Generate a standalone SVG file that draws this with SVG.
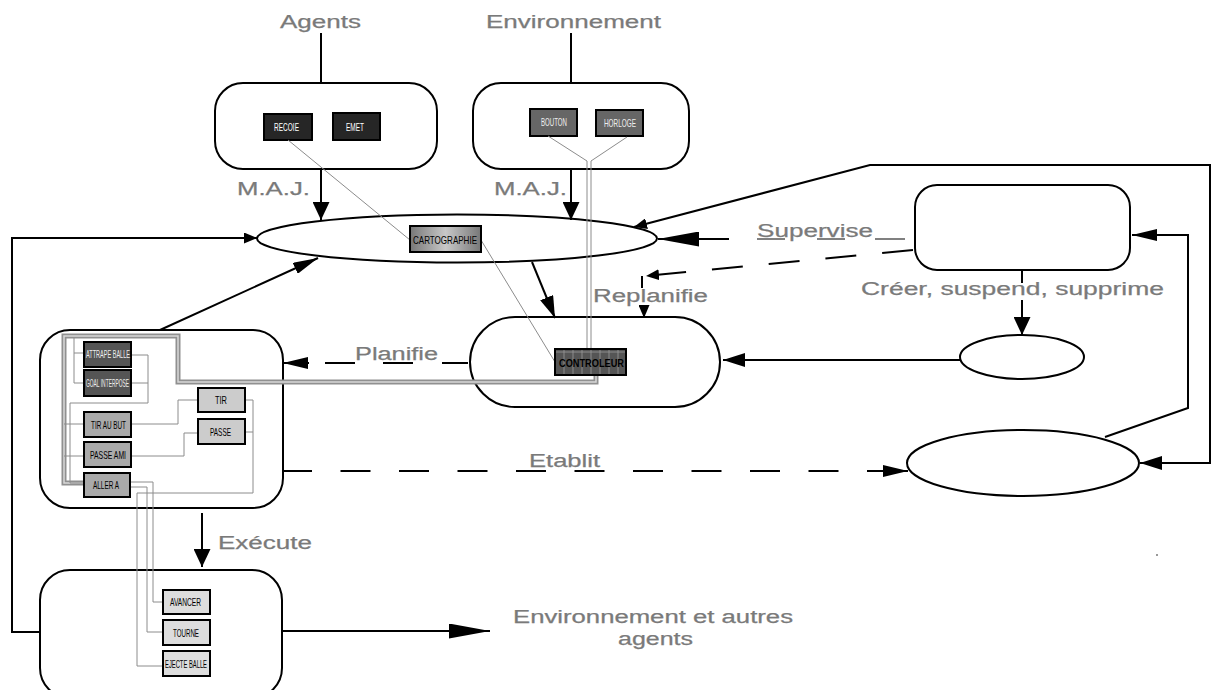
<svg xmlns="http://www.w3.org/2000/svg" width="1211" height="690" viewBox="0 0 1211 690">
<style>
.shape{fill:#fff;stroke:#000;stroke-width:2}
.lbl{font-family:"Liberation Sans",Arial,sans-serif;font-size:18px;fill:#7a7a7a;stroke:#7a7a7a;stroke-width:0.25}
.box{stroke:#000;stroke-width:2}
.bt{font-family:"Liberation Sans",Arial,sans-serif;font-size:11.5px}
.w{fill:#fff}
.k{fill:#000}
.c{fill:none;stroke:#000;stroke-width:2}
.wire{fill:none;stroke:#8c8c8c;stroke-width:1}
.dk{fill:#262626}
.md{fill:#666}
.g5{fill:#555}
.g9{fill:#aaa}
.gc{fill:#ccc}
.gd{fill:#ddd}
</style>
<defs>
<marker id="ah" markerUnits="userSpaceOnUse" markerWidth="22" markerHeight="14" refX="22" refY="7" orient="auto"><path d="M0,0 L22,7 L0,14 z" fill="#000"/></marker>
<marker id="ahL" markerUnits="userSpaceOnUse" markerWidth="41" markerHeight="15" refX="41" refY="7.5" orient="auto"><path d="M0,0 L41,7.5 L0,15 z" fill="#000"/></marker>
<marker id="ahM" markerUnits="userSpaceOnUse" markerWidth="25" markerHeight="12" refX="25" refY="6" orient="auto"><path d="M0,0 L25,6 L0,12 z" fill="#000"/></marker>
<marker id="ahS" markerUnits="userSpaceOnUse" markerWidth="13" markerHeight="11" refX="13" refY="5.5" orient="auto"><path d="M0,0 L13,5.5 L0,11 z" fill="#000"/></marker>
<marker id="ahD" markerUnits="userSpaceOnUse" markerWidth="18" markerHeight="17" refX="18" refY="8.5" orient="auto"><path d="M0,0 L18,8.5 L0,17 z" fill="#000"/></marker>
<linearGradient id="cartoGrad" x1="0" y1="0" x2="1" y2="0">
<stop offset="0" stop-color="#777"/><stop offset="0.5" stop-color="#c8c8c8"/><stop offset="1" stop-color="#777"/>
</linearGradient>
</defs>
<rect width="1211" height="690" fill="#fff"/>

<g id="labels">
<text class="lbl" x="280" y="28" textLength="81" lengthAdjust="spacingAndGlyphs">Agents</text>
<text class="lbl" x="486" y="28" textLength="175" lengthAdjust="spacingAndGlyphs">Environnement</text>
<text class="lbl" x="237" y="195" textLength="73" lengthAdjust="spacingAndGlyphs">M.A.J.</text>
<text class="lbl" x="494" y="195" textLength="73" lengthAdjust="spacingAndGlyphs">M.A.J.</text>
<text class="lbl" x="757" y="237" textLength="116" lengthAdjust="spacingAndGlyphs">Supervise</text>
<text class="lbl" x="593" y="302" textLength="115" lengthAdjust="spacingAndGlyphs">Replanifie</text>
<text class="lbl" x="861" y="295" textLength="303" lengthAdjust="spacingAndGlyphs">Créer, suspend, supprime</text>
<text class="lbl" x="355" y="360" textLength="83" lengthAdjust="spacingAndGlyphs">Planifie</text>
<text class="lbl" x="529" y="467" textLength="71" lengthAdjust="spacingAndGlyphs">Etablit</text>
<text class="lbl" x="218" y="549" textLength="94" lengthAdjust="spacingAndGlyphs">Exécute</text>
<text class="lbl" x="513" y="623" textLength="280" lengthAdjust="spacingAndGlyphs">Environnement et autres</text>
<text class="lbl" x="618" y="645" textLength="75" lengthAdjust="spacingAndGlyphs">agents</text>
</g>

<g id="node-agents">
<rect class="shape" x="215" y="83" width="222" height="86" rx="28"/>
<rect class="box dk" x="264" y="114" width="48" height="26"/>
<text class="bt w" x="274" y="131" textLength="25" lengthAdjust="spacingAndGlyphs">RECOIE</text>
<rect class="box dk" x="333" y="113" width="47" height="27"/>
<text class="bt w" x="346" y="131" textLength="18" lengthAdjust="spacingAndGlyphs">EMET</text>
</g>

<g id="node-environnement">
<rect class="shape" x="473" y="83" width="216" height="86" rx="28"/>
<rect class="box md" x="530" y="109" width="47" height="27"/>
<text class="bt" fill="#eee" x="541" y="126" textLength="26" lengthAdjust="spacingAndGlyphs">BOUTON</text>
<rect class="box md" x="596" y="110" width="47" height="26"/>
<text class="bt" fill="#eee" x="604" y="127" textLength="32" lengthAdjust="spacingAndGlyphs">HORLOGE</text>
</g>

<g id="node-supervision">
<rect class="shape" x="915" y="185" width="215" height="85" rx="22"/>
</g>
<g id="node-small-ellipse">
<ellipse class="shape" cx="1022" cy="357" rx="62" ry="22"/>
</g>
<g id="node-big-ellipse">
<ellipse class="shape" cx="1023" cy="463" rx="116" ry="33"/>
</g>
<rect x="1156" y="554" width="2" height="2" fill="#999"/>

<g id="node-controleur">
<rect class="shape" x="470" y="317" width="250" height="90" rx="45"/>
</g>
<g id="node-planif">
<rect class="shape" x="40" y="330" width="243" height="178" rx="30"/>
</g>
<g id="node-exec">
<rect class="shape" x="40" y="570" width="242" height="128" rx="30"/>
</g>
<g id="node-carto-ellipse">
<ellipse class="shape" cx="457" cy="238.5" rx="200" ry="24"/>
</g>

<g id="wires">
<line class="wire" x1="288" y1="140" x2="410" y2="240"/>
<line class="wire" x1="481" y1="240" x2="555" y2="362"/>
<line class="wire" x1="548" y1="136" x2="587" y2="161"/>
<line class="wire" x1="627" y1="137" x2="591" y2="161"/>
<line class="wire" x1="587" y1="161" x2="587" y2="349"/>
<line class="wire" x1="591" y1="161" x2="591" y2="349"/>
<path d="M596,374 V382 H178 V336 H64 V483 H84" fill="none" stroke="#909090" stroke-width="5"/>
<path d="M596,374 V382 H178 V336 H64 V483 H84" fill="none" stroke="#d8d8d8" stroke-width="1.5"/>
<path class="wire" d="M131,355 H148 V403 H70 V483 H84"/>
<path class="wire" d="M131,383 H148"/>
<path class="wire" d="M74,338 V383 H84 M74,353 H84"/>
<path class="wire" d="M84,424 H64 M84,456 H64"/>
<path class="wire" d="M131,424 H178 V400 H198"/>
<path class="wire" d="M131,456 H184 V433 H198"/>
<path class="wire" d="M245,400 H253 V493 H137 V666 H163"/>
<path class="wire" d="M245,432 H253"/>
<path class="wire" d="M130,482 H153 V602 H163"/>
<path class="wire" d="M130,487 H147 V632 H163"/>
</g>

<g id="node-cartographie">
<rect class="box" fill="url(#cartoGrad)" x="410" y="226" width="71" height="26"/>
<text class="bt k" x="413" y="244" textLength="64" lengthAdjust="spacingAndGlyphs">CARTOGRAPHIE</text>
</g>

<g id="node-controleur-box">
<rect class="box g5" x="555" y="349" width="71" height="26"/>
<path d="M556,352 H625 M564,350 V374 M573,350 V374 M582,350 V374 M591,350 V374 M600,350 V374 M609,350 V374 M618,350 V374" stroke="#9a9a9a" stroke-width="0.8" fill="none"/>
<text class="bt k" font-weight="bold" x="559" y="367" textLength="65" lengthAdjust="spacingAndGlyphs">CONTROLEUR</text>
</g>

<g id="node-comportements">
<rect class="box g5" x="84" y="342" width="47" height="25"/>
<text class="bt" fill="#eee" x="86" y="358" textLength="44" lengthAdjust="spacingAndGlyphs">ATTRAPE BALLE</text>
<rect class="box g5" x="84" y="370" width="47" height="26"/>
<text class="bt" fill="#eee" x="86" y="387" textLength="43" lengthAdjust="spacingAndGlyphs">GOAL INTERPOSE</text>
<rect class="box g9" x="84" y="412" width="47" height="25"/>
<text class="bt k" x="91" y="429" textLength="35" lengthAdjust="spacingAndGlyphs">TIR AU BUT</text>
<rect class="box g9" x="84" y="442" width="47" height="25"/>
<text class="bt k" x="90" y="459" textLength="36" lengthAdjust="spacingAndGlyphs">PASSE AMI</text>
<rect class="box g9" x="84" y="473" width="46" height="24"/>
<text class="bt k" x="93" y="489" textLength="26" lengthAdjust="spacingAndGlyphs">ALLER A</text>
<rect class="box gc" x="198" y="388" width="47" height="24"/>
<text class="bt k" x="215" y="404" textLength="12" lengthAdjust="spacingAndGlyphs">TIR</text>
<rect class="box gc" x="198" y="419" width="47" height="25"/>
<text class="bt k" x="210" y="436" textLength="21" lengthAdjust="spacingAndGlyphs">PASSE</text>
</g>

<g id="node-actions">
<rect class="box gd" x="163" y="590" width="47" height="24"/>
<text class="bt k" x="170" y="606" textLength="31" lengthAdjust="spacingAndGlyphs">AVANCER</text>
<rect class="box gd" x="163" y="620" width="47" height="25"/>
<text class="bt k" x="173" y="637" textLength="26" lengthAdjust="spacingAndGlyphs">TOURNE</text>
<rect class="box gd" x="163" y="651" width="47" height="25"/>
<text class="bt k" x="165" y="668" textLength="42" lengthAdjust="spacingAndGlyphs">EJECTE BALLE</text>
</g>

<g id="connectors">
<path class="c" stroke-width="1.5" d="M321,33 V83"/>
<path class="c" stroke-width="1.5" d="M571,33 V83"/>
<path class="c" d="M321,169 V220" marker-end="url(#ahD)"/>
<path class="c" d="M571,169 V220" marker-end="url(#ahD)"/>
<path class="c" stroke-width="3" d="M1211,165 H870 L634,227" marker-end="url(#ahS)"/>
<path class="c" stroke-width="1.5" d="M729,239 H658" marker-end="url(#ahL)"/>
<path fill="none" stroke="#808080" stroke-width="2" d="M757,239 H785 M817,239 H845 M875,239 H905"/>
<path class="c" stroke-width="3" stroke-dasharray="31 26" d="M913,250 L646,276" marker-end="url(#ahS)"/>
<path class="c" stroke-width="3" d="M642,276 V288"/>
<path class="c" stroke-width="2.5" d="M644,305 V318" marker-end="url(#ahS)"/>
<path class="c" d="M1022,270 V283"/>
<path class="c" d="M1022,300 V335" marker-end="url(#ahD)"/>
<path class="c" d="M960,360 H723" marker-end="url(#ah)"/>
<path class="c" d="M1105,437 L1188,408 V235 H1132" marker-end="url(#ahM)"/>
<path class="c" stroke-width="1.5" d="M1210,165 V463 H1140" marker-end="url(#ah)"/>
<path class="c" stroke-dasharray="30 28.5" d="M282,471 H880"/>
<path class="c" d="M880,471 H908" marker-end="url(#ahM)"/>
<path class="c" d="M468,363 H442 M413,363 H383 M355,363 H325"/>
<path class="c" d="M309,363 H283" marker-end="url(#ahM)"/>
<path class="c" stroke-width="2.5" d="M532,262 L555,318" marker-end="url(#ah)"/>
<path class="c" d="M160,330 L318,258" marker-end="url(#ahM)"/>
<path class="c" stroke-width="3" d="M40,632 H12 V238 H257" marker-end="url(#ahS)"/>
<path class="c" stroke-width="2.5" d="M202,513 V567" marker-end="url(#ahD)"/>
<path class="c" d="M282,631 H490" marker-end="url(#ahL)"/>
</g>
</svg>
